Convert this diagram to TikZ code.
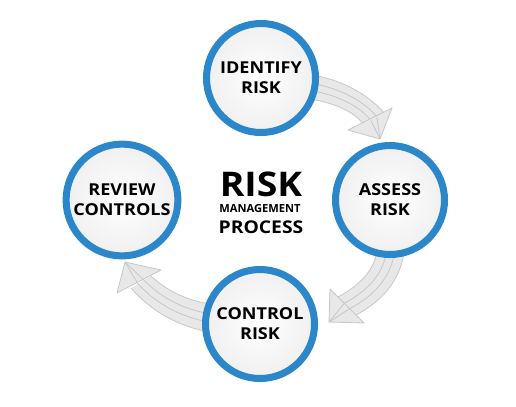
\documentclass[tikz,border=0pt]{standalone}
\usepackage{fontspec}
\setmainfont{Open Sans}
\newfontfamily\widesans[FakeStretch=1.1]{Open Sans}
\usetikzlibrary{calc}

\definecolor{riskblue}{HTML}{2B87C9}
\definecolor{bandgray}{HTML}{E8E8E8}
\definecolor{bandline}{HTML}{C8C8C8}

\tikzset{
    stage/.style={circle, draw=riskblue, line width=6pt, minimum size=3.27cm,
        inner color=white, outer color=gray!12, align=center,
        font=\widesans\bfseries\fontsize{14}{17}\selectfont},
    band fill/.style={fill=bandgray},
    band line/.style={draw=bandline, line width=0.7pt},
}

% curved grey arrow, coordinates named #1s1 ... #1w2
\newcommand{\bandarrow}[1]{%
    \fill[band fill] (#1s1) .. controls (#1p1) and (#1q1) .. (#1e1)
        -- (#1e2) .. controls (#1q2) and (#1p2) .. (#1s2) -- cycle;
    \foreach \t in {0,0.35,0.65,1}
        \draw[band line] ($(#1s1)!\t!(#1s2)$) .. controls ($(#1p1)!\t!(#1p2)$)
            and ($(#1q1)!\t!(#1q2)$) .. ($(#1e1)!\t!(#1e2)$);
    \filldraw[band fill, band line, line join=round] (#1w1) -- (#1t) -- (#1w2) -- cycle;
    \foreach \t in {0.35,0.65}
        \draw[band line] ($(#1e1)!\t!(#1e2)$) -- (#1t);
}

\begin{document}
\begin{tikzpicture}[x=0.03cm, y=-0.03cm]
    \useasboundingbox (0,0) rectangle (516,406);

    % Identify -> Assess
    \coordinate (as1) at (312,75);  \coordinate (ap1) at (345,80);
    \coordinate (aq1) at (372,98);  \coordinate (ae1) at (384,113);
    \coordinate (as2) at (310,99);  \coordinate (ap2) at (335,103);
    \coordinate (aq2) at (355,112); \coordinate (ae2) at (364,125);
    \coordinate (aw1) at (392,108); \coordinate (at) at (380,139);
    \coordinate (aw2) at (348,130);
    \bandarrow{a}

    % Assess -> Control
    \coordinate (bs1) at (405,245); \coordinate (bp1) at (402,282);
    \coordinate (bq1) at (380,302); \coordinate (be1) at (356,315);
    \coordinate (bs2) at (378,245); \coordinate (bp2) at (376,270);
    \coordinate (bq2) at (360,285); \coordinate (be2) at (338,297);
    \coordinate (bw1) at (364,323); \coordinate (bt) at (329,322);
    \coordinate (bw2) at (330,289);
    \bandarrow{b}

    % Control -> Review
    \coordinate (cs1) at (210,332); \coordinate (cp1) at (175,326);
    \coordinate (cq1) at (148,308); \coordinate (ce1) at (131,288);
    \coordinate (cs2) at (210,304); \coordinate (cp2) at (185,300);
    \coordinate (cq2) at (166,290); \coordinate (ce2) at (151,276);
    \coordinate (cw1) at (117,293); \coordinate (ct) at (125,262);
    \coordinate (cw2) at (161,270);
    \bandarrow{c}

    % stages
    \node[stage] (identify) at (261,78) {IDENTIFY\\RISK};
    \node[stage] (assess) at (390,200) {ASSESS\\RISK};
    \node[stage] (control) at (260,324) {CONTROL\\RISK};
    \node[stage] (review) at (122,200) {REVIEW\\CONTROLS};

    % title
    \node[font=\widesans\bfseries\fontsize{29}{29}\selectfont] (title) at (261,184) {RISK};
    \node[font=\bfseries\fontsize{9.5}{10}\selectfont] (manage) at (260,208.5) {MANAGEMENT};
    \node[font=\widesans\bfseries\fontsize{15}{15}\selectfont] (process) at (261,227) {PROCESS};
\end{tikzpicture}
\end{document}
